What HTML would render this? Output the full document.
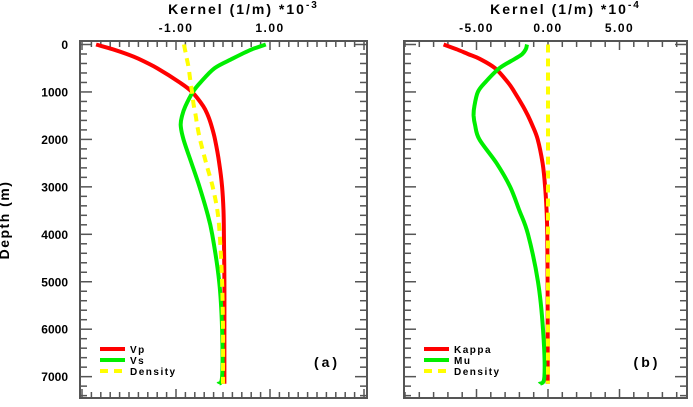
<!DOCTYPE html>
<html><head><meta charset="utf-8"><style>
body{margin:0;background:#fff;}
svg text{font-family:"Liberation Sans",sans-serif;font-weight:bold;fill:#000;}
</style></head><body>
<svg id="chart" width="693" height="402" viewBox="0 0 693 402" xmlns="http://www.w3.org/2000/svg">
<text x="9" y="220" font-size="14" letter-spacing="1.5" text-anchor="middle" transform="rotate(-90 9 220)">Depth (m)</text>
<g id="pa"></g>
<g id="pb"></g>
</svg>
<script>
const depths=[0,100,200,300,500,800,1000,1300,1500,1700,2000,2500,3000,3500,4000,5000,6000,7000,7150];
const vpA=[-2.7,-2.35,-2.05,-1.8,-1.4,-0.92,-0.66,-0.42,-0.32,-0.25,-0.17,-0.08,-0.02,0.01,0.02,0.03,0.03,0.03,0.03];
const vsA=[0.91,0.62,0.4,0.2,-0.18,-0.48,-0.64,-0.8,-0.87,-0.9,-0.84,-0.67,-0.5,-0.35,-0.23,-0.08,-0.02,-0.02,-0.1];
const rhoA=[-0.83,-0.81,-0.79,-0.77,-0.73,-0.69,-0.66,-0.62,-0.58,-0.55,-0.49,-0.36,-0.22,-0.12,-0.07,-0.02,0,0,0];
const kapB=[-7.3,-6.4,-5.6,-4.8,-3.7,-2.8,-2.35,-1.75,-1.4,-1.1,-0.72,-0.38,-0.2,-0.1,-0.05,-0.03,-0.02,-0.02,-0.02];
const muB=[-1.47,-1.55,-1.8,-2.3,-3.4,-4.4,-4.9,-5.15,-5.2,-5.1,-4.8,-3.6,-2.65,-2.0,-1.4,-0.7,-0.35,-0.25,-0.6];
const rhoB=[0,0,0,0,0,0,0,0,0,0,0,0,0,0,0,0,0,0,0];
const depthTicks=[0,1000,2000,3000,4000,5000,6000,7000];
const xTicksA=[-1,1];
const xTicksB=[-5,0,5];
const NS="http://www.w3.org/2000/svg";
const yTop=41,yBot=398;
function ys(d){return 44.5+d*0.04745;}
function mk(p,tag,at){const e=document.createElementNS(NS,tag);for(const k in at)e.setAttribute(k,at[k]);p.appendChild(e);return e;}
function smooth(P){let d='M'+P[0][0].toFixed(1)+','+P[0][1].toFixed(1);
  for(let i=0;i<P.length-1;i++){const p0=P[i-1]||P[i],p1=P[i],p2=P[i+1],p3=P[i+2]||p2;
    const c1=[p1[0]+(p2[0]-p0[0])/6,p1[1]+(p2[1]-p0[1])/6],c2=[p2[0]-(p3[0]-p1[0])/6,p2[1]-(p3[1]-p1[1])/6];
    d+=' C'+c1.map(v=>v.toFixed(1)).join(',')+' '+c2.map(v=>v.toFixed(1)).join(',')+' '+p2.map(v=>v.toFixed(1)).join(',');}
  return d;}
function panel(g,x0,x1,xs,lo,hi,minor,majors,labelTicks,title,exp,series,tag,showY){
  mk(g,'rect',{x:x0,y:yTop,width:x1-x0,height:yBot-yTop,fill:'none',stroke:'#555','stroke-width':2});
  for(let v=lo;v<=hi+1e-9;v+=minor){const x=xs(v);const maj=majors.some(m=>Math.abs(m-v)<1e-6);const L=maj?9:6;
    mk(g,'line',{x1:x,x2:x,y1:yTop,y2:yTop+L,stroke:'#555','stroke-width':1.5});
    mk(g,'line',{x1:x,x2:x,y1:yBot,y2:yBot-L,stroke:'#555','stroke-width':1.5});}
  for(let d=0;d<=7400;d+=200){const y=ys(d);const L=d%1000==0?12:7;
    mk(g,'line',{x1:x0,x2:x0+L,y1:y,y2:y,stroke:'#555','stroke-width':1.5});
    mk(g,'line',{x1:x1,x2:x1-L,y1:y,y2:y,stroke:'#555','stroke-width':1.5});}
  labelTicks.forEach(m=>{const t=mk(g,'text',{x:xs(m),y:32,'font-size':12,'text-anchor':'middle','letter-spacing':1.5});t.textContent=m.toFixed(2);
    
    });
  if(showY)depthTicks.forEach(d=>{const t=mk(g,'text',{x:68,y:ys(d)+4.5,'font-size':12,'text-anchor':'end'});t.textContent=d;
    
    });
  const tt=mk(g,'text',{x:(x0+x1)/2+20,y:14,'font-size':14,'text-anchor':'middle','letter-spacing':2});
  tt.innerHTML=title+'<tspan font-size="10" dy="-6">'+exp+'</tspan>';
  
  
  series.forEach((s,i)=>{
    const P=s.v.map((v,j)=>[xs(v),ys(depths[j])]);
    const pl=mk(g,'path',{d:smooth(P),fill:'none',stroke:s.c,'stroke-width':4,'stroke-linejoin':'round','stroke-dasharray':s.dash?'8,6':'none'});
    
    
    const ly=349+i*11;
    mk(g,'line',{x1:x0+20,x2:x0+45,y1:ly,y2:ly,stroke:s.c,'stroke-width':4,'stroke-dasharray':s.dash?'8,6':'none'});
    const lt=mk(g,'text',{x:x0+50,y:ly+4,'font-size':10,'letter-spacing':1.5});lt.textContent=s.n;
    
    
  });
  const pt=mk(g,'text',{x:x1-40,y:367,'font-size':14,'text-anchor':'middle','letter-spacing':3});pt.textContent=tag;
  
  
}
const xsA=v=>223+v*47;
const xsB=v=>548+v*14.3;
panel(document.getElementById('pa'),80,367,xsA,-3,3,0.2,[-3,-1,1,3],xTicksA,'Kernel (1/m) *10','-3',
 [{n:'Vp',v:vpA,c:'#f00'},{n:'Vs',v:vsA,c:'#0e0'},{n:'Density',v:rhoA,c:'#ff0',dash:1}],'(a)',true);
panel(document.getElementById('pb'),404,687,xsB,-10,9,1,[-5,0,5],xTicksB,'Kernel (1/m) *10','-4',
 [{n:'Kappa',v:kapB,c:'#f00'},{n:'Mu',v:muB,c:'#0e0'},{n:'Density',v:rhoB,c:'#ff0',dash:1}],'(b)',false);
</script>
</body></html>
